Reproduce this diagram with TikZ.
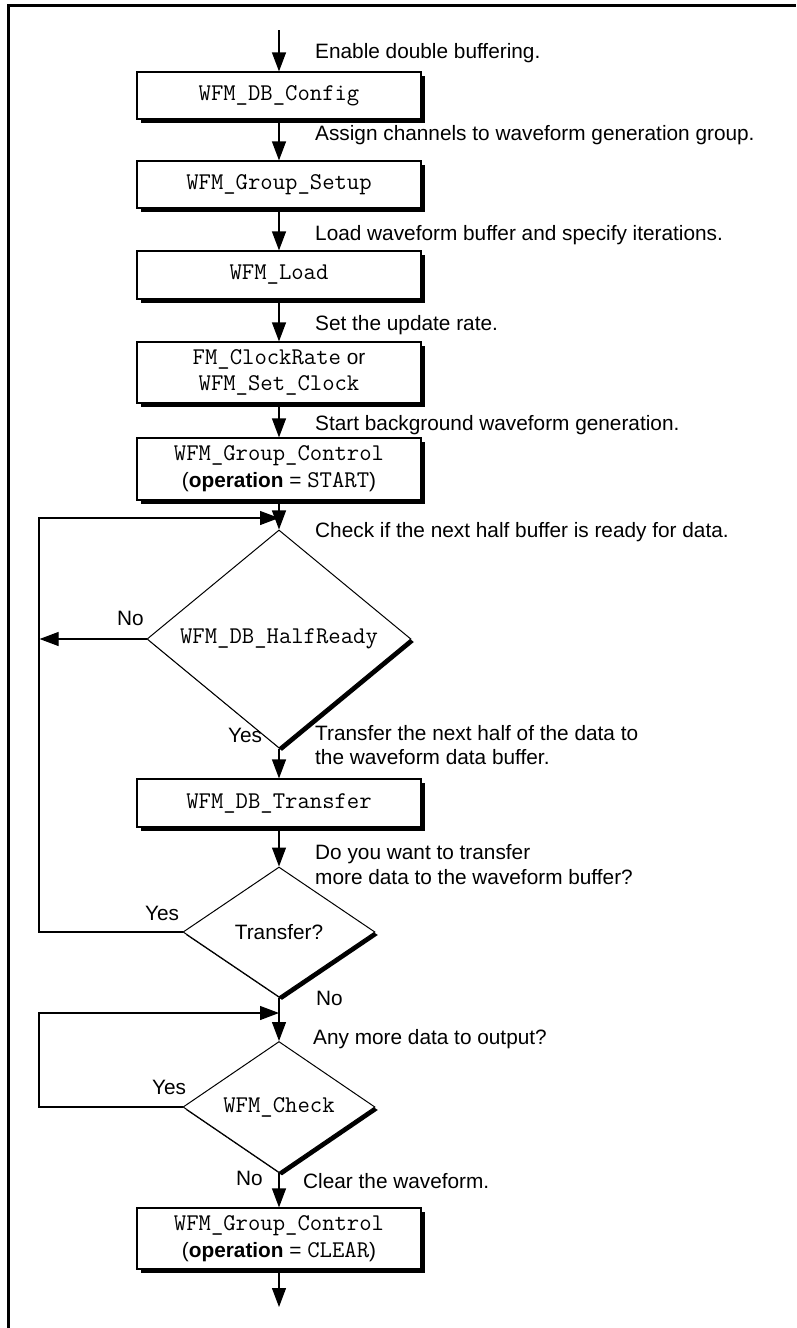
\documentclass[tikz,border=0pt]{standalone}
\usepackage{fontspec}
\setmainfont{Liberation Sans}
\usetikzlibrary{arrows.meta,shapes.geometric,shadows}
\newcommand{\mtt}[1]{{\ttfamily\fontsize{24}{28}\selectfont #1}}
\begin{document}
\begin{tikzpicture}[x=1pt,y=-1pt,
  font=\fontsize{20.8}{25}\selectfont,
  flow/.style={line width=1.2pt,-{Triangle[length=19pt,width=14pt]}},
  plain/.style={line width=1.2pt},
  procbox/.style={draw,line width=1.2pt,fill=white,minimum width=284pt,inner sep=0pt,align=center,
    drop shadow={shadow xshift=4pt,shadow yshift=-4pt,fill=black,opacity=1}},
  decision/.style={diamond,draw,line width=1pt,fill=white,inner sep=0pt,
    drop shadow={shadow xshift=3pt,shadow yshift=-3pt,fill=black,opacity=1}},
  lbl/.style={anchor=base west,inner sep=0pt}
]
\useasboundingbox (0,0) rectangle (796,1328);
% frame
\draw[line width=2.7pt] (8.7,1328) -- (8.7,5.7) -- (796,5.7);

% boxes
\node[procbox,minimum height=47pt] (b1) at (279,95.5) {\mtt{WFM\_DB\_Config}};
\node[procbox,minimum height=47pt] (b2) at (279,184.5) {\mtt{WFM\_Group\_Setup}};
\node[procbox,minimum height=48pt] (b3) at (279,275) {\mtt{WFM\_Load}};
\node[procbox,minimum height=61pt] (b4) at (279,372.5) {\mtt{FM\_ClockRate} or\\[1pt]\mtt{WFM\_Set\_Clock}};
\node[procbox,minimum height=62pt] (b5) at (279,469) {\mtt{WFM\_Group\_Control}\\[2pt](\textbf{operation} = \mtt{START})};
\node[decision,minimum width=264pt,minimum height=178pt] (d1) at (279,639) {\mtt{WFM\_DB\_HalfReady}};
\node[procbox,minimum height=48pt] (b6) at (279,803) {\mtt{WFM\_DB\_Transfer}};
\node[decision,minimum width=192pt,minimum height=130pt] (d2) at (279,932) {Transfer?};
\node[decision,minimum width=192pt,minimum height=130pt] (d3) at (279,1107) {\mtt{WFM\_Check}};
\node[procbox,minimum height=61pt] (b7) at (279,1238.5) {\mtt{WFM\_Group\_Control}\\[2pt](\textbf{operation} = \mtt{CLEAR})};

% coordinates
\coordinate (start) at (279,30);
\coordinate (j1) at (279,518);
\coordinate (l1) at (39,518);
\coordinate (n1) at (39.6,639);
\coordinate (j2) at (279,1013);
\coordinate (l2) at (39,1013);
\coordinate (finish) at (279,1307);

% connectors
\draw[flow] (start) -- (b1.north);
\draw[flow] (b1.south) -- (b2.north);
\draw[flow] (b2.south) -- (b3.north);
\draw[flow] (b3.south) -- (b4.north);
\draw[flow] (b4.south) -- (b5.north);
\draw[flow] (b5.south) -- (d1.north);
\draw[flow] (d1.west) -- (n1);
\draw[flow] (d1.south) -- (b6.north);
\draw[flow] (b6.south) -- (d2.north);
\draw[flow] (d2.west) -| (l1) -- (j1);
\draw[flow] (d2.south) -- (d3.north);
\draw[flow] (d3.west) -| (l2) -- (j2);
\draw[flow] (d3.south) -- (b7.north);
\draw[flow] (b7.south) -- (finish);

% labels
\node[lbl] (t1) at (315,58) {Enable double buffering.};
\node[lbl] (t2) at (315,140) {Assign channels to waveform generation group.};
\node[lbl] (t3) at (315,240) {Load waveform buffer and specify iterations.};
\node[lbl] (t4) at (315,330) {Set the update rate.};
\node[lbl] (t5) at (315,430) {Start background waveform generation.};
\node[lbl] (t6) at (315,537) {Check if the next half buffer is ready for data.};
\node[lbl] (t7) at (315,740) {Transfer the next half of the data to};
\node[lbl] (t7b) at (315,764) {the waveform data buffer.};
\node[lbl] (t8) at (315,859) {Do you want to transfer};
\node[lbl] (t8b) at (315,884) {more data to the waveform buffer?};
\node[lbl] (t9) at (313,1044) {Any more data to output?};
\node[lbl] (t10) at (303,1188) {Clear the waveform.};
\node[lbl] (no1) at (117,625) {No};
\node[lbl] (yes1) at (228,742) {Yes};
\node[lbl] (yes2) at (145,920) {Yes};
\node[lbl] (no2) at (316,1005) {No};
\node[lbl] (yes3) at (152,1094) {Yes};
\node[lbl] (no3) at (236,1185) {No};
\end{tikzpicture}
\end{document}
